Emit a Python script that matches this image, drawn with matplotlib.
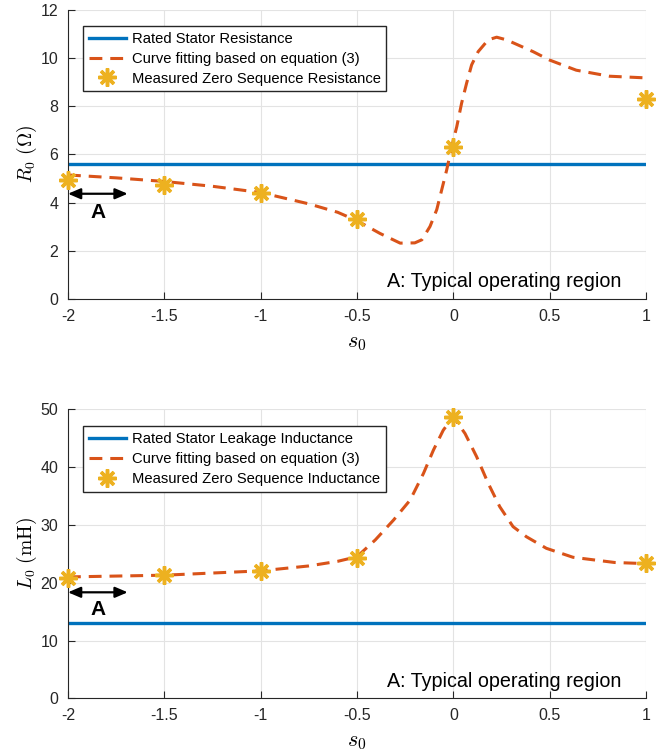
import numpy as np
import matplotlib.pyplot as plt

plt.rcParams['font.family'] = ['Liberation Sans', 'DejaVu Sans']
plt.rcParams['mathtext.fontset'] = 'cm'

# slip values of the measurements
s_meas = [-2, -1.5, -1, -0.5, 0, 1]
R_meas = [4.95, 4.74, 4.40, 3.32, 6.32, 8.29]
L_meas = [20.9, 21.3, 22.0, 24.3, 48.6, 23.35]

R_rated = 5.6
L_rated = 13.0

# fitted curves
s_fitR = [-2, -1.75, -1.5, -1.25, -1, -0.75, -0.6, -0.5, -0.38, -0.276, -0.2, -0.163,
          -0.121, -0.086, -0.06, -0.034, -0.008, 0.018, 0.043, 0.069, 0.095, 0.129,
          0.181, 0.225, 0.276, 0.414, 0.5, 0.638, 0.81, 1.0]
R_fit = [5.15, 5.03, 4.88, 4.68, 4.42, 3.95, 3.6, 3.25, 2.72, 2.32, 2.33, 2.46,
         3.01, 3.71, 4.54, 5.37, 6.33, 7.16, 8.13, 8.96, 9.72, 10.27,
         10.76, 10.87, 10.76, 10.27, 9.92, 9.5, 9.25, 9.18]

s_fitL = [-2, -1.5, -1, -0.75, -0.6, -0.5, -0.405, -0.31, -0.224, -0.155, -0.103, -0.052,
          0, 0.061, 0.121, 0.181, 0.241, 0.31, 0.379, 0.483, 0.621, 0.837, 1.0]
L_fit = [21.0, 21.3, 22.05, 22.9, 23.7, 24.5, 27.4, 30.85, 34.3, 38.9, 42.96, 46.4,
         48.7, 45.8, 41.8, 37.2, 33.15, 29.7, 27.96, 25.95, 24.4, 23.5, 23.3]

xticks = [-2, -1.5, -1, -0.5, 0, 0.5, 1]
xticklabels = ['-2', '-1.5', '-1', '-0.5', '0', '0.5', '1']

blue = '#0072BD'
orange = '#D95319'
yellow = '#EDB120'

fig = plt.figure(figsize=(6.69, 7.56), dpi=100)
ax1 = fig.add_axes([0.1016, 0.6045, 0.864, 0.3823])
ax2 = fig.add_axes([0.1016, 0.0763, 0.864, 0.3823])

star = (8, 2, 0)
dash = (0, (4.2, 2.6))


def style(ax, ymax, ystep):
    ax.set_xlim(-2, 1)
    ax.set_ylim(0, ymax)
    ax.set_xticks(xticks)
    ax.set_xticklabels(xticklabels)
    ax.set_yticks(np.arange(0, ymax + 1, ystep))
    ax.grid(True, color='#e3e3e3', lw=0.8)
    ax.set_axisbelow(True)
    for sp in ['top', 'right']:
        ax.spines[sp].set_visible(False)
    for sp in ['left', 'bottom']:
        ax.spines[sp].set_color('#262626')
        ax.spines[sp].set_linewidth(0.8)
    ax.tick_params(direction='in', length=5, width=0.8, colors='#262626',
                   labelsize=11.5, pad=7)
    ax.set_xlabel('$s_0$', fontsize=16, labelpad=6)


def legend(ax, top):
    ax.legend(loc='upper left', bbox_to_anchor=(0.026, top), fontsize=10.6, frameon=True,
              fancybox=False, edgecolor='#262626', framealpha=1, borderpad=0.4,
              labelspacing=0.4, handlelength=2.5, handletextpad=0.4, borderaxespad=0)


# top: resistance
ax1.plot([-2, 1], [R_rated, R_rated], color=blue, lw=2.4, label='Rated Stator Resistance')
ax1.plot(s_fitR, R_fit, color=orange, lw=2.2, ls=dash,
         label='Curve fitting based on equation (3)')
ax1.plot(s_meas, R_meas, ls='none', marker=star, ms=13, mew=2.5, color=yellow,
         label='Measured Zero Sequence Resistance', clip_on=False, zorder=5)
style(ax1, 12, 2)
ax1.set_ylabel(r'$R_0\ (\Omega)$', fontsize=14, labelpad=1)
legend(ax1, 0.945)
ax1.annotate('', xy=(-2, 4.37), xytext=(-1.69, 4.37),
             arrowprops=dict(arrowstyle='<|-|>,head_length=0.75,head_width=0.32',
                             color='black', lw=1.6, shrinkA=0, shrinkB=0))
ax1.text(-1.845, 3.6, 'A', fontsize=15, fontweight='bold', ha='center', va='center')
ax1.text(0.87, 0.5, 'A: Typical operating region', fontsize=14.2, ha='right', va='baseline')

# bottom: inductance
ax2.plot([-2, 1], [L_rated, L_rated], color=blue, lw=2.4,
         label='Rated Stator Leakage Inductance')
ax2.plot(s_fitL, L_fit, color=orange, lw=2.2, ls=dash,
         label='Curve fitting based on equation (3)')
ax2.plot(s_meas, L_meas, ls='none', marker=star, ms=13, mew=2.5, color=yellow,
         label='Measured Zero Sequence Inductance', clip_on=False, zorder=5)
style(ax2, 50, 10)
ax2.set_ylabel(r'$L_0\ (\mathrm{mH})$', fontsize=14, labelpad=1)
legend(ax2, 0.941)
ax2.annotate('', xy=(-2, 18.34), xytext=(-1.69, 18.34),
             arrowprops=dict(arrowstyle='<|-|>,head_length=0.75,head_width=0.32',
                             color='black', lw=1.6, shrinkA=0, shrinkB=0))
ax2.text(-1.845, 15.45, 'A', fontsize=15, fontweight='bold', ha='center', va='center')
ax2.text(0.87, 1.9, 'A: Typical operating region', fontsize=14.2, ha='right', va='baseline')

fig.savefig('out.png', dpi=100)
